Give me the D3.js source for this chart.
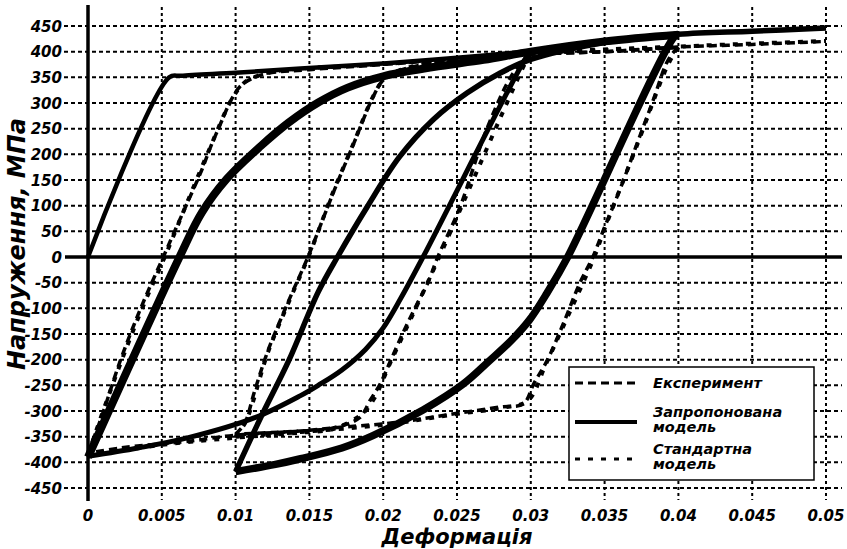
<!DOCTYPE html>
<html>
<head>
<meta charset="utf-8">
<script src="https://cdn.jsdelivr.net/npm/d3@7"></script>
<style>
  body { margin: 0; background: #fff; }
  svg { display: block; }
  text { font-family: 'DejaVu Sans', Verdana, sans-serif; font-weight: bold; font-style: italic; fill: #000; }
</style>
</head>
<body>
<svg id="chart"></svg>
<script>
// axis ticks
const xTicks = [0, 0.005, 0.01, 0.015, 0.02, 0.025, 0.03, 0.035, 0.04, 0.045, 0.05]
const xTickLabels = ['0', '0.005', '0.01', '0.015', '0.02', '0.025', '0.03', '0.035', '0.04', '0.045', '0.05']
const yTicks = [450, 400, 350, 300, 250, 200, 150, 100, 50, 0, -50, -100, -150, -200, -250, -300, -350, -400, -450]

// proposed model (solid), branches in loading order [strain, stress MPa]
const modelLoad = [[0, 0], [0.0055, 350], [0.0063, 353], [0.01, 359], [0.0144, 367], [0.02, 377], [0.025, 388], [0.03, 401]]
const modelUnload1 = [[0.03, 401], [0.0297, 390], [0.0227, 0], [0.0212, -80], [0.02, -138], [0.0188, -180], [0.0172, -220], [0.0156, -250], [0.0144, -270], [0.0113, -313], [0.0068, -352], [0.0034, -372], [0, -388]]
const modelReload1 = [[0, -390], [0.0062, 0], [0.0077, 86], [0.0094, 152], [0.0117, 216], [0.0136, 262], [0.0156, 301], [0.0176, 330], [0.02, 352], [0.0234, 370], [0.0268, 384], [0.03, 400], [0.035, 420], [0.04, 433]]
const modelUnload2 = [[0.04, 433], [0.0397, 428], [0.0325, 0], [0.0311, -70], [0.0299, -123], [0.0287, -162], [0.0272, -202], [0.0254, -248], [0.0227, -298], [0.0193, -348], [0.0172, -372], [0.0144, -393], [0.0127, -404], [0.01, -418]]
const modelReload2 = [[0.01, -418], [0.0117, -313], [0.0136, -202], [0.0156, -68], [0.0169, 0], [0.0189, 97], [0.0211, 195], [0.0234, 268], [0.0257, 320], [0.0279, 358], [0.03, 385], [0.035, 418], [0.04, 434], [0.045, 440], [0.05, 446]]

// experiment (dashed)
const expUnload1 = [[0.03, 395], [0.0298, 390], [0.0288, 358], [0.027, 248], [0.0252, 97], [0.0237, 0], [0.023, -52], [0.0223, -91], [0.0214, -144], [0.0205, -202], [0.0198, -247], [0.0191, -280], [0.0184, -313], [0.0166, -333], [0.0144, -339], [0.01, -347], [0.0068, -359], [0.0045, -365], [0.0022, -372], [0, -382]]
const expReload1 = [[0, -382], [0.0009, -313], [0.0022, -201], [0.0036, -98], [0.0051, 0], [0.0061, 65], [0.0068, 110], [0.0077, 169], [0.0083, 214], [0.009, 261], [0.0097, 306], [0.0104, 335], [0.0113, 350], [0.0122, 358], [0.015, 365], [0.02, 375], [0.025, 386], [0.03, 395], [0.035, 400], [0.04, 408]]
const expUnload2 = [[0.04, 408], [0.0397, 400], [0.0392, 378], [0.0383, 306], [0.0372, 221], [0.0361, 136], [0.035, 58], [0.0342, 0], [0.0333, -52], [0.0322, -130], [0.0311, -202], [0.0302, -247], [0.0295, -286], [0.028, -292], [0.0247, -306], [0.022, -318], [0.02, -325], [0.0166, -333], [0.0144, -339], [0.01, -345]]
const expReload2 = [[0.01, -345], [0.0106, -325], [0.0113, -260], [0.0122, -182], [0.0136, -85], [0.0149, 0], [0.0166, 124], [0.018, 221], [0.0193, 311], [0.02, 345], [0.0208, 360], [0.025, 386], [0.03, 395], [0.035, 400], [0.04, 409], [0.045, 414], [0.05, 420]]

// standard model (dotted)
const stdUnload1 = [[0.03, 396], [0.0298, 388], [0.0238, 0], [0.0222, -100], [0.0205, -205], [0.0194, -275], [0.0186, -305], [0.0166, -335], [0.0144, -342], [0.01, -352], [0.005, -366], [0, -386]]
const stdReload1 = [[0, -386], [0.0008, -318], [0.0023, -200], [0.0037, -98], [0.0052, 0], [0.0068, 112], [0.0083, 215], [0.0097, 305], [0.0106, 340], [0.0115, 353], [0.0127, 362], [0.02, 376], [0.03, 396], [0.04, 409]]
const stdUnload2 = [[0.04, 409], [0.0393, 375], [0.0372, 218], [0.035, 55], [0.0343, 0], [0.0322, -135], [0.031, -210], [0.0298, -280], [0.028, -294], [0.0247, -307], [0.02, -327], [0.0144, -341], [0.01, -350]]
const stdReload2 = [[0.01, -350], [0.0107, -320], [0.0122, -185], [0.0136, -88], [0.015, 5], [0.0166, 126], [0.018, 222], [0.0193, 312], [0.02, 344], [0.0212, 365], [0.03, 396], [0.04, 410], [0.05, 421]]

const legendItems = [
  { lines: ['Експеримент'], kind: 'exp' },
  { lines: ['Запропонована', 'модель'], kind: 'model' },
  { lines: ['Стандартна', 'модель'], kind: 'std' }
]

const width = 847
const height = 549
const svg = d3.select('#chart').attr('width', width).attr('height', height)

const xScale = d3.scaleLinear().domain([0, 0.05]).range([88, 826])
const yScale = d3.scaleLinear().domain([-450, 450]).range([488, 26])

const styles = {
  exp: { dash: '8,5', width: 3.5 },
  std: { dash: '5,8', width: 4 },
  model: { dash: null, width: 5 }
}

// grid: horizontal dashed lines
svg.append('g')
  .selectAll('line')
  .data(yTicks.filter(d => d !== 0))
  .join('line')
  .attr('x1', 64).attr('x2', 842)
  .attr('y1', d => yScale(d)).attr('y2', d => yScale(d))
  .attr('stroke', '#000').attr('stroke-width', 2)
  .attr('stroke-dasharray', '4,3')

// grid: vertical dashed lines
svg.append('g')
  .selectAll('line')
  .data(xTicks.filter(d => d !== 0))
  .join('line')
  .attr('x1', d => xScale(d)).attr('x2', d => xScale(d))
  .attr('y1', 7).attr('y2', 500)
  .attr('stroke', '#000').attr('stroke-width', 2)
  .attr('stroke-dasharray', '3,3')

// zero stress line and strain axis
svg.append('line')
  .attr('x1', 65).attr('x2', 842)
  .attr('y1', yScale(0)).attr('y2', yScale(0))
  .attr('stroke', '#000').attr('stroke-width', 3.5)
svg.append('line')
  .attr('x1', xScale(0)).attr('x2', xScale(0))
  .attr('y1', 5).attr('y2', 501)
  .attr('stroke', '#000').attr('stroke-width', 3.5)

// tick labels
svg.append('g')
  .selectAll('text')
  .data(yTicks)
  .join('text')
  .attr('x', 62)
  .attr('y', d => yScale(d) + 5.5)
  .attr('text-anchor', 'end')
  .attr('font-size', 15)
  .text(d => d)

svg.append('g')
  .selectAll('text')
  .data(xTicks)
  .join('text')
  .attr('x', d => xScale(d))
  .attr('y', 521)
  .attr('text-anchor', 'middle')
  .attr('font-size', 15)
  .text((d, i) => xTickLabels[i])

// axis titles
svg.append('text')
  .attr('x', 457).attr('y', 544)
  .attr('text-anchor', 'middle')
  .attr('font-size', 21)
  .text('Деформація')
svg.append('text')
  .attr('transform', 'translate(25,244) rotate(-90)')
  .attr('text-anchor', 'middle')
  .attr('font-size', 24)
  .text('Напруження, МПа')

// curves
const line = d3.line()
  .x(d => xScale(d[0]))
  .y(d => yScale(d[1]))
  .curve(d3.curveCatmullRom.alpha(0.5))

const drawBranch = (data, kind, w) => {
  const s = styles[kind]
  svg.append('path')
    .attr('d', line(data))
    .attr('fill', 'none')
    .attr('stroke', '#000')
    .attr('stroke-width', w || s.width)
    .attr('stroke-dasharray', s.dash)
    .attr('stroke-linejoin', 'round')
}

drawBranch(stdUnload1, 'std')
drawBranch(stdReload1, 'std')
drawBranch(stdUnload2, 'std')
drawBranch(stdReload2, 'std')

drawBranch(expUnload1, 'exp')
drawBranch(expReload1, 'exp')
drawBranch(expUnload2, 'exp')
drawBranch(expReload2, 'exp')

drawBranch(modelLoad, 'model', 4.5)
drawBranch(modelUnload1, 'model', 5)
drawBranch(modelReload1, 'model', 8)
drawBranch(modelUnload2, 'model', 7.5)
drawBranch(modelReload2, 'model', 5.5)

// legend
const legend = svg.append('g').attr('transform', 'translate(569,367)')
legend.append('rect')
  .attr('width', 245).attr('height', 113)
  .attr('fill', '#fff').attr('stroke', '#000').attr('stroke-width', 1.5)

const rowY = [16, 55, 92]
legendItems.forEach((item, i) => {
  const s = styles[item.kind]
  legend.append('line')
    .attr('x1', 6).attr('x2', 68)
    .attr('y1', rowY[i]).attr('y2', rowY[i])
    .attr('stroke', '#000')
    .attr('stroke-width', item.kind === 'model' ? 4 : 3)
    .attr('stroke-dasharray', s.dash)
  const startY = item.lines.length === 1 ? rowY[i] + 5 : rowY[i] - 5
  item.lines.forEach((t, j) => {
    legend.append('text')
      .attr('x', 84)
      .attr('y', startY + j * 15)
      .attr('font-size', 14.5)
      .text(t)
  })
})
</script>
</body>
</html>
